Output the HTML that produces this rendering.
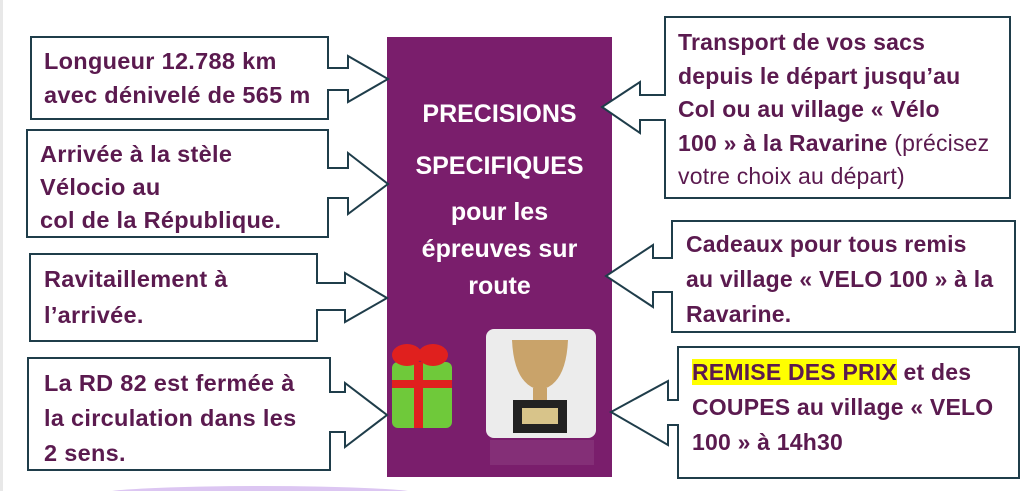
<!DOCTYPE html>
<html><head><meta charset="utf-8"><style>
html,body{margin:0;padding:0;background:#fff;}
body{width:1024px;height:491px;overflow:hidden;position:relative;font-family:"Liberation Sans",sans-serif;}
.t{position:absolute;color:#5b1a4f;font-weight:bold;font-size:23.5px;letter-spacing:0.3px;line-height:34px;white-space:nowrap;}
.r{font-size:23px;letter-spacing:0.2px;}
.c{position:absolute;color:#fff;font-weight:bold;font-size:25px;text-align:center;width:225px;left:387px;}
</style></head><body>
<svg width="1024" height="491" style="position:absolute;left:0;top:0">
<rect x="0" y="0" width="3" height="491" fill="#e8e8e8"/>
<ellipse cx="260" cy="494" rx="160" ry="8" fill="#dcc6f2"/>
<rect x="387" y="37" width="225" height="440" fill="#7a1e6c"/>
<g fill="#fff" stroke="#1f3d4a" stroke-width="2">
<path d="M31 37 H328 V68 H348 V56 L388 79 L348 102 V90 H328 V119 H31 Z"/>
<path d="M27 130 H328 V168 H348 V153 L388 184 L348 214 V198 H328 V237 H27 Z"/>
<path d="M30 254 H317 V283 H345 V273 L387 298 L345 322 V310 H317 V341 H30 Z"/>
<path d="M28 358 H330 V392 H345 V383 L387 415 L345 447 V432 H330 V470 H28 Z"/>
<path d="M1010 17 H665 V95 H640 V82 L602 107 L640 133 V120 H665 V198 H1010 Z"/>
<path d="M1015 221 H672 V258 H653 V245 L606 276 L653 307 V292 H672 V332 H1015 Z"/>
<path d="M1019 347 H678 V400 H668 V381 L611 412 L668 445 V425 H678 V478 H1019 Z"/>
</g>
<rect x="392" y="362" width="60" height="66" rx="6" fill="#6fc93a"/>
<rect x="414" y="362" width="9" height="66" fill="#e0201e"/>
<rect x="392" y="380" width="60" height="8" fill="#e0201e"/>
<ellipse cx="407" cy="355" rx="15" ry="11" fill="#e0201e"/>
<ellipse cx="433" cy="355" rx="15" ry="11" fill="#e0201e"/>
<rect x="486" y="329" width="110" height="109" rx="8" fill="#ececec"/>
<path d="M512 340 H568 Q566 385 540 390 Q514 385 512 340 Z" fill="#c9a36a"/>
<rect x="533" y="388" width="14" height="14" fill="#c9a36a"/>
<rect x="513" y="400" width="54" height="33" fill="#222"/>
<rect x="522" y="408" width="36" height="16" fill="#d8c48a"/>
<rect x="490" y="440" width="104" height="25" fill="#8a3a7e" opacity="0.6"/>
</svg>
<div class="t" style="left:44px;top:44px">Longueur 12.788 km<br>avec dénivelé de 565 m</div>
<div class="t" style="left:40px;top:138px;line-height:33px">Arrivée à la stèle<br>Vélocio au<br>col de la République.</div>
<div class="t" style="left:44px;top:261px;line-height:36px">Ravitaillement à<br>l’arrivée.</div>
<div class="t" style="left:44px;top:366px;line-height:35px">La RD 82 est fermée à<br>la circulation dans les<br>2 sens.</div>
<div class="t r" style="left:678px;top:26px;line-height:33.5px">Transport de vos sacs<br>depuis le départ jusqu’au<br>Col ou au village « Vélo<br>100 » à la Ravarine <span style="font-weight:normal">(précisez</span><br><span style="font-weight:normal">votre choix au départ)</span></div>
<div class="t r" style="left:686px;top:227px;line-height:35px">Cadeaux pour tous remis<br>au village « VELO 100 » à la<br>Ravarine.</div>
<div class="t r" style="left:692px;top:355px;line-height:35px"><span style="background:#ffff00">REMISE DES PRIX</span> et des<br>COUPES au village « VELO<br>100 » à 14h30</div>
<div class="c" style="top:100px">PRECISIONS</div>
<div class="c" style="top:152px">SPECIFIQUES</div>
<div class="c" style="top:194px;line-height:37px">pour les<br>épreuves sur<br>route</div>
</body></html>
